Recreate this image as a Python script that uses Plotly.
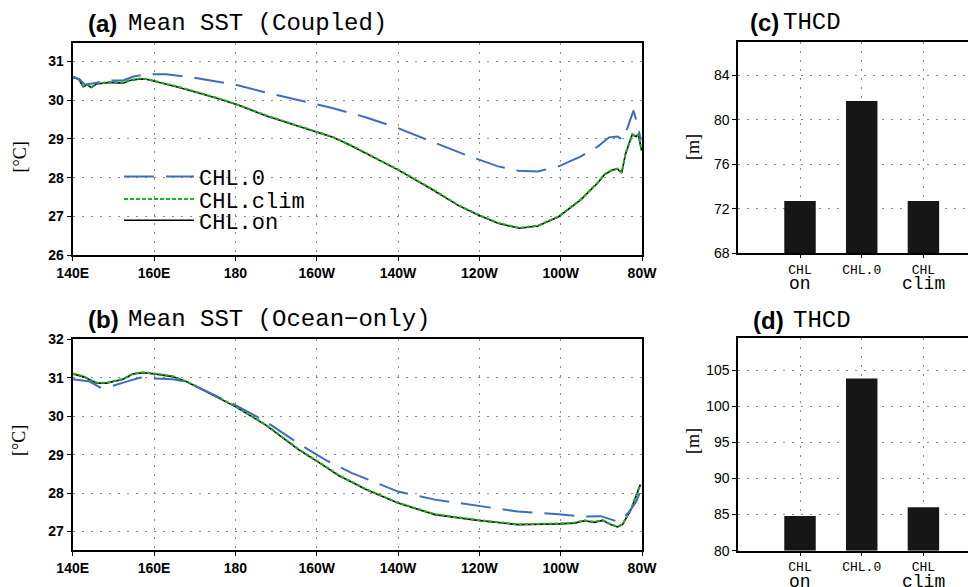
import plotly.graph_objects as go

# ---------------- data ----------------
lon_ticks = [140, 160, 180, 200, 220, 240, 260, 280]
lon_labels = ["140E", "160E", "180", "160W", "140W", "120W", "100W", "80W"]

# (a) Mean SST (Coupled)
a_lon = [140, 141.4, 142.6, 143.6, 144.6, 145.9, 149.1, 152.4, 154.0, 156.5, 158.1,
         160.6, 165.5, 171.2, 176.1, 181.0, 187.5, 195.7, 200.0, 204.0, 208.0, 212.0,
         220.0, 228.3, 235.0, 240.0, 244.6, 249.9, 254.4, 259.5, 265.0, 269.1, 270.7,
         272.8, 274.0, 275.0, 276.0, 277.6, 278.5, 279.1, 279.9]
a_on = [30.59, 30.55, 30.35, 30.40, 30.33, 30.42, 30.46, 30.44, 30.51, 30.55, 30.54,
        30.48, 30.35, 30.18, 30.03, 29.86, 29.60, 29.32, 29.18, 29.04, 28.85, 28.63,
        28.20, 27.70, 27.27, 27.02, 26.82, 26.69, 26.75, 26.99, 27.43, 27.86, 28.07,
        28.20, 28.22, 28.12, 28.63, 29.11, 29.06, 29.11, 28.70]
a_clim = [30.60, 30.56, 30.36, 30.41, 30.34, 30.43, 30.47, 30.45, 30.52, 30.56, 30.55,
          30.49, 30.36, 30.19, 30.04, 29.87, 29.61, 29.33, 29.19, 29.05, 28.86, 28.64,
          28.21, 27.71, 27.28, 27.03, 26.83, 26.70, 26.76, 27.00, 27.44, 27.87, 28.08,
          28.21, 28.23, 28.13, 28.64, 29.12, 29.07, 29.12, 28.71]
a_lon0 = [140, 141.8, 143.0, 144.2, 145.9, 148.3, 152.4, 154.9, 158.1, 163.0, 167.9,
          172.8, 180.0, 187.5, 195.7, 203.8, 212.0, 220.0, 228.3, 236.5, 244.6, 249.5,
          254.4, 259.5, 265.0, 269.1, 271.9, 274.0, 275.2, 276.4, 277.9, 278.8, 279.7]
a_chl0 = [30.61, 30.53, 30.40, 30.42, 30.45, 30.51, 30.51, 30.61, 30.67, 30.67, 30.61,
          30.53, 30.40, 30.20, 30.00, 29.80, 29.56, 29.28, 28.93, 28.59, 28.29, 28.18,
          28.16, 28.29, 28.55, 28.80, 29.04, 29.06, 28.98, 29.28, 29.73, 29.41, 28.98]

# (b) Mean SST (Ocean-only)
b_lon = [140, 142.6, 145.9, 148.3, 152.4, 154.9, 157.3, 160.1, 164.6, 167.9, 172.8,
         180.0, 187.5, 195.7, 200.5, 205.5, 208.7, 212.0, 220.0, 229.1, 239.6, 249.5,
         259.5, 263.4, 265.8, 268.3, 270.3, 272.3, 274.0, 275.2, 277.3, 278.9, 279.6]
b_on = [31.10, 31.03, 30.86, 30.86, 30.96, 31.10, 31.13, 31.10, 31.03, 30.90, 30.64,
        30.25, 29.77, 29.12, 28.80, 28.45, 28.28, 28.10, 27.74, 27.44, 27.29, 27.18,
        27.20, 27.22, 27.28, 27.24, 27.29, 27.18, 27.12, 27.18, 27.57, 28.00, 28.22]
b_clim = [31.11, 31.04, 30.87, 30.87, 30.97, 31.11, 31.14, 31.11, 31.04, 30.91, 30.65,
          30.26, 29.78, 29.13, 28.81, 28.46, 28.29, 28.11, 27.75, 27.45, 27.30, 27.19,
          27.21, 27.23, 27.29, 27.25, 27.30, 27.19, 27.13, 27.19, 27.58, 28.01, 28.23]
b_lon0 = [140, 142.6, 144.2, 146.7, 149.9, 153.2, 156.5, 160.1, 164.6, 167.9, 172.8,
          180.0, 187.5, 195.7, 200.5, 202.6, 208.7, 220.0, 229.1, 239.6, 249.5, 259.5,
          265.8, 269.8, 274.0, 276.6, 278.6, 279.4]
b_chl0 = [30.96, 30.92, 30.90, 30.75, 30.79, 30.90, 31.00, 30.98, 30.96, 30.90, 30.66,
          30.29, 29.86, 29.28, 28.97, 28.84, 28.52, 28.04, 27.83, 27.67, 27.52, 27.45,
          27.39, 27.40, 27.26, 27.48, 27.78, 28.00]

# (c), (d) THCD bars
bar_categories = ["CHL on", "CHL.0", "CHL clim"]
bar_line1 = ["CHL", "CHL.0", "CHL"]
bar_line2 = ["on", "", "clim"]
c_thcd = [72.7, 81.67, 72.7]
d_thcd = [84.8, 103.85, 86.0]

# ---------------- layout helpers (page pixels -> paper fractions) ----------------
PAGE_OFF = 8                     # default body margin of the html page
W, H = 976 - PAGE_OFF, 587 - PAGE_OFF
def px_x(p):
    return (p - PAGE_OFF) / W
def px_y(p):
    return 1 - (p - PAGE_OFF) / H

BLUE = "#3d6dbf"
GREEN = "#22b022"
BLACK = "#000000"
MONO = "Liberation Mono"
GRID = dict(showgrid=True, gridcolor="#8a8a8a", gridwidth=1.2, griddash="2px,7px")
LINE = dict(showline=True, linecolor="black", linewidth=2, ticks="outside",
            tickcolor="black", zeroline=False, automargin=False)

fig = go.Figure()

def add_lines(lon_s, on, clim, lon0, chl0, xa, ya, legend):
    fig.add_trace(go.Scatter(x=lon_s, y=on, mode="lines", name="CHL.on",
                             line=dict(color=BLACK, width=1.6), xaxis=xa, yaxis=ya,
                             showlegend=legend, legend="legend3"))
    fig.add_trace(go.Scatter(x=lon_s, y=clim, mode="lines", name="CHL.clim",
                             line=dict(color=GREEN, width=2, dash="4px,2px"), xaxis=xa, yaxis=ya,
                             showlegend=legend, legend="legend2"))
    fig.add_trace(go.Scatter(x=lon0, y=chl0, mode="lines", name="CHL.0",
                             line=dict(color=BLUE, width=2, dash="30px,12px"), xaxis=xa, yaxis=ya,
                             showlegend=legend, legend="legend"))

add_lines(a_lon, a_on, a_clim, a_lon0, a_chl0, "x", "y", True)
add_lines(b_lon, b_on, b_clim, b_lon0, b_chl0, "x2", "y2", False)

bar_x = list(range(1, len(bar_categories) + 1))
fig.add_trace(go.Bar(x=bar_x, y=[v - 68 for v in c_thcd], base=68, width=0.51,
                     marker=dict(color="#161616", line=dict(width=0)),
                     xaxis="x3", yaxis="y3", showlegend=False, name="THCD (c)"))
fig.add_trace(go.Bar(x=bar_x, y=[v - 80 for v in d_thcd], base=80, width=0.51,
                     marker=dict(color="#161616", line=dict(width=0)),
                     xaxis="x4", yaxis="y4", showlegend=False, name="THCD (d)"))

lon_tickfont = dict(family="Liberation Sans", size=14, color="black", weight="bold")
y_tickfont = dict(family="Liberation Sans", size=14, color="black", weight="bold")
bar_tickfont = dict(family="Liberation Sans", size=14, color="black")
cat_tickfont = dict(family=MONO, size=13, color="black")

xdom = [px_x(72.7), px_x(642)]
bdom = [px_x(738.3), 1.0]

def leg(py):
    return dict(x=px_x(119), y=px_y(py), xanchor="left", yanchor="middle",
                font=dict(family=MONO, size=22, color="black"), bgcolor="rgba(0,0,0,0)",
                itemwidth=70, borderwidth=0)

fig.update_layout(
    template="none",
    width=W, height=H, autosize=False,
    margin=dict(l=0, r=0, t=0, b=0),
    paper_bgcolor="white", plot_bgcolor="white",
    xaxis=dict(domain=xdom, range=[140, 280], anchor="y", tickvals=lon_ticks, ticktext=lon_labels,
               tickfont=lon_tickfont, mirror=True, ticklen=4, **GRID, **LINE),
    yaxis=dict(domain=[px_y(255), px_y(43.3)], range=[26, 31.47], anchor="x",
               tickvals=[26, 27, 28, 29, 30, 31], tickfont=y_tickfont, mirror=True, ticklen=4,
               **GRID, **LINE),
    xaxis2=dict(domain=xdom, range=[140, 280], anchor="y2", tickvals=lon_ticks, ticktext=lon_labels,
                tickfont=lon_tickfont, mirror=True, ticklen=4, **GRID, **LINE),
    yaxis2=dict(domain=[px_y(550), px_y(339.3)], range=[26.52, 32], anchor="x2",
                tickvals=[27, 28, 29, 30, 31, 32], tickfont=y_tickfont, mirror=True, ticklen=4,
                **GRID, **LINE),
    xaxis3=dict(domain=bdom, range=[0, 3.852], anchor="y3", tickvals=bar_x, ticktext=bar_line1,
                tickfont=cat_tickfont, mirror=True, ticklen=3, **GRID, **LINE),
    yaxis3=dict(domain=[px_y(253.3), px_y(41.7)], range=[68, 87], anchor="x3",
                tickvals=[68, 72, 76, 80, 84], tickfont=bar_tickfont, mirror=False, ticklen=4,
                **GRID, **LINE),
    xaxis4=dict(domain=bdom, range=[0, 3.852], anchor="y4", tickvals=bar_x, ticktext=bar_line1,
                tickfont=cat_tickfont, mirror=True, ticklen=3, **GRID, **LINE),
    yaxis4=dict(domain=[px_y(550.7), px_y(338.3)], range=[80, 109.4], anchor="x4",
                tickvals=[80, 85, 90, 95, 100, 105], tickfont=bar_tickfont, mirror=False, ticklen=4,
                **GRID, **LINE),
    legend=leg(176.7),
    legend2=leg(199.3),
    legend3=leg(220.5),
    showlegend=True,
)

# second line of the bar category labels
for xa, bottom_px in (("x3", 253.3), ("x4", 550.7)):
    for xv, t in zip(bar_x, bar_line2):
        if t:
            fig.add_annotation(x=xv, y=px_y(bottom_px + 31), xref=xa, yref="paper",
                               xanchor="center", yanchor="middle", text=t, showarrow=False,
                               font=dict(family=MONO, size=18, color="black"))

def title(px, py, label, text, tx):
    fig.add_annotation(x=px_x(px), y=px_y(py), xref="paper", yref="paper", xanchor="left",
                       yanchor="middle", text="<b>" + label + "</b>", showarrow=False,
                       font=dict(family="Liberation Sans", size=24, color="black"))
    fig.add_annotation(x=px_x(tx), y=px_y(py), xref="paper", yref="paper", xanchor="left",
                       yanchor="middle", text=text, showarrow=False,
                       font=dict(family=MONO, size=24, color="black"))

title(86, 23.7, "(a)", "Mean SST (Coupled)", 126)
title(86, 319.7, "(b)", "Mean SST (Ocean\u2212only)", 126)
title(748, 23, "(c)", "THCD", 781)
title(751, 320, "(d)", "THCD", 791)

def ytitle(px, py, text):
    fig.add_annotation(x=px_x(px), y=px_y(py), xref="paper", yref="paper", xanchor="center",
                       yanchor="middle", text=text, textangle=-90, showarrow=False,
                       font=dict(family="Liberation Serif", size=18, color="black"))

ytitle(19, 157.5, "[°C]")
ytitle(19, 441, "[°C]")
ytitle(693, 147, "[m]")
ytitle(693, 441, "[m]")

fig.write_html("out.html")
